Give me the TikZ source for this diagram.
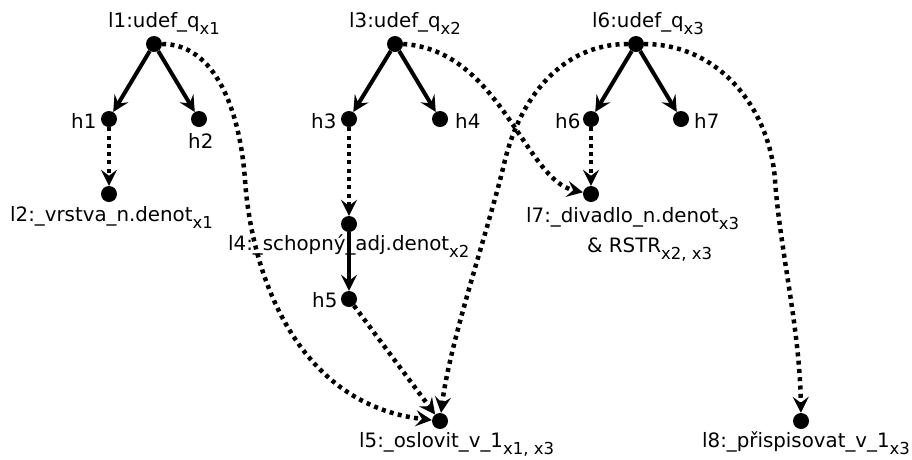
\documentclass[tikz,border=0pt]{standalone}
\usepackage{fontspec}
\setmainfont{DejaVu Sans}
\usetikzlibrary{arrows.meta}
\newcommand\sbs[1]{\raisebox{-7.5pt}{\fontsize{16.5}{16.5}\selectfont #1}}
\begin{document}
\begin{tikzpicture}[x=1pt,y=-1pt,
  dot/.style={circle,fill,inner sep=0pt,minimum size=16pt},
  lbl/.style={inner sep=0pt,anchor=base west,font=\fontsize{19.8}{23}\selectfont},
  solidarr/.style={line width=4pt,-{Stealth[length=16pt,width=16pt,inset=6pt]}},
  dotarr/.style={line width=4.5pt,dash pattern=on 4pt off 4.3pt,-{Stealth[length=16pt,width=16pt,inset=6pt]}}]
\useasboundingbox (0,0) rectangle (912,459);
% labels
\node[lbl] (t1) at (108,27) {l1:udef\_q\sbs{x1}};
\node[lbl] (t3) at (349,27) {l3:udef\_q\sbs{x2}};
\node[lbl] (t6) at (592,27) {l6:udef\_q\sbs{x3}};
\node[lbl] (th1) at (71,128) {h1};
\node[lbl] (th2) at (188,148) {h2};
\node[lbl] (th3) at (311,128) {h3};
\node[lbl] (th4) at (455,128) {h4};
\node[lbl] (th6) at (555,128) {h6};
\node[lbl] (th7) at (694,128) {h7};
\node[lbl] (t2) at (10,221) {l2:\_vrstva\_n.denot\sbs{x1}};
\node[lbl] (t4) at (228,250) {l4:\_schopný\_adj.denot\sbs{x2}};
\node[lbl] (t7) at (526,222) {l7:\_divadlo\_n.denot\sbs{x3}};
\node[lbl] (t7b) at (587,252) {\& RSTR\sbs{x2, x3}};
\node[lbl] (th5) at (312,307) {h5};
\node[lbl] (t5) at (359,447) {l5:\_oslovit\_v\_1\sbs{x1, x3}};
\node[lbl] (t8) at (702,447) {l8:\_přispisovat\_v\_1\sbs{x3}};
% dots
\node[dot] (l1) at (154,44) {};
\node[dot] (h1) at (109,119) {};
\node[dot] (h2) at (199,119) {};
\node[dot] (l2) at (109,194) {};
\node[dot] (l3) at (395,44) {};
\node[dot] (h3) at (349,119) {};
\node[dot] (h4) at (440,119) {};
\node[dot] (l4) at (349,224) {};
\node[dot] (h5) at (349,299) {};
\node[dot] (l5) at (440,421) {};
\node[dot] (l6) at (636,44) {};
\node[dot] (h6) at (591,119) {};
\node[dot] (h7) at (681,119) {};
\node[dot] (l7) at (591,194) {};
\node[dot] (l8) at (801,421) {};
% solid edges
\draw[solidarr] (l1) -- (h1);
\draw[solidarr] (l1) -- (h2);
\draw[solidarr] (l3) -- (h3);
\draw[solidarr] (l3) -- (h4);
\draw[solidarr] (l6) -- (h6);
\draw[solidarr] (l6) -- (h7);
\draw[solidarr] (l4) -- (h5);
% dotted edges
\draw[dotarr] (h1) -- (l2);
\draw[dotarr] (h3) -- (l4);
\draw[dotarr] (h6) -- (l7);
\draw[dotarr] (h5) -- (l5);
\coordinate (m1) at (245,180);
\coordinate (m6) at (505,160);
\coordinate (m8) at (775,180);
\draw[dotarr] (l1.east) .. controls (215,44) and (240,110) .. (m1)
  .. controls (252,280) and (300,405) .. (l5);
\draw[dotarr] (l3.east) .. controls (500,50) and (525,180) .. (l7);
\draw[dotarr] (l6.west) .. controls (560,44) and (520,100) .. (m6)
  .. controls (490,225) and (450,340) .. (l5);
\draw[dotarr] (l6.east) .. controls (720,44) and (770,110) .. (m8)
  .. controls (780,250) and (800,330) .. (l8);
\end{tikzpicture}
\end{document}
